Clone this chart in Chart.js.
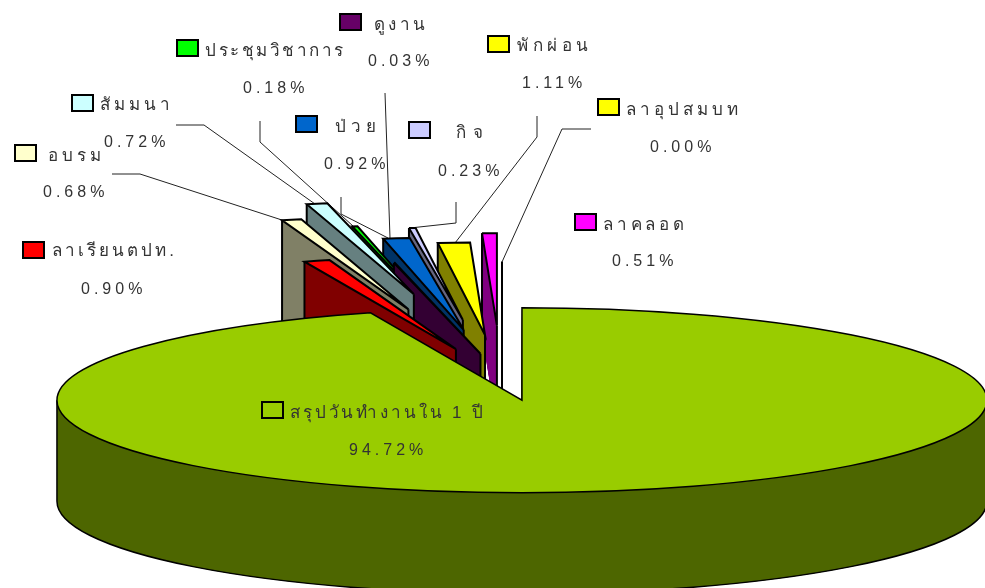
<!DOCTYPE html>
<html>
<head>
<meta charset="utf-8">
<style>
  html, body { margin: 0; padding: 0; background: #fff; }
  #box { width: 985px; height: 588px; }
</style>
<script src="https://cdn.jsdelivr.net/npm/chart.js@4/dist/chart.umd.js"></script>
</head>
<body>
<div id="box"><canvas id="pieChart" width="985" height="588"></canvas></div>
<script>
// Data, in clockwise order from 12 o'clock
const categories = ['สรุปวันทำงานใน 1 ปี', 'ลาเรียนตปท.', 'อบรม', 'สัมมนา', 'ดูงาน', 'ประชุมวิชาการ', 'ป่วย', 'กิจ', 'พักผ่อน', 'ลาคลอด', 'ลาอุปสมบท'];
const percents = [94.72, 0.90, 0.68, 0.72, 0.03, 0.18, 0.92, 0.23, 1.11, 0.51, 0.00];
// how far each slice is pulled out, as a share of the radius
const explode = [0.26, 0.31, 0.75, 0.91, 0.25, 0.65, 0.51, 0.615, 0.45, 0.55, 0.24];

const topColors = ['#99CC00', '#FF0000', '#FFFFCC', '#CCFFFF', '#660066', '#00FF00', '#0066CC', '#CCCCFF', '#FFFF00', '#FF00FF', '#FFFF00'];
const wallColors = ['#4D6600', '#800000', '#808066', '#668080', '#330033', '#008000', '#003366', '#666680', '#808000', '#800080', '#808000'];

// Flattened 3D look
const RX = 465, RY = 92.5, DEPTH = 101;
// small sideways correction of the pulled out slices, px
const shiftX = [0, -3, -6, 0, 0, -10, -4, -8, -3, -1, 0];

// Label layout: key box x/y, name x/y, name width, percent x/y (same order as categories)
const labelBoxes = [
    [262, 402, 290, 413, 193, 349, 451],
    [23, 242, 52, 251, 122, 81, 290],
    [15, 145, 48, 156, 53, 43, 193],
    [72, 95, 100, 105, 70, 104, 143],
    [340, 14, 374, 25, 51, 368, 62],
    [177, 40, 205, 51, 138, 243, 89],
    [296, 116, 335, 127, 41, 324, 165],
    [409, 122, 456, 133, 27, 438, 172],
    [488, 36, 517, 46, 71, 522, 84],
    [575, 214, 603, 225, 81, 612, 262],
    [598, 99, 626, 110, 112, 650, 148]
];
const leaderLines = [
    [[112, 174], [140, 174], [285, 221]],
    [[176, 125], [204, 125], [315, 204]],
    [[260, 121], [260, 142], [353, 226]],
    [[341, 197], [341, 214], [388, 238]],
    [[385, 93], [390, 238]],
    [[456, 202], [456, 223], [410, 228]],
    [[537, 116], [537, 137], [455, 243]],
    [[591, 129], [562, 129], [502, 262]]
];

function slicePoints(arc, i) {
    const mid = (arc.startAngle + arc.endAngle) / 2;
    const ax = arc.x + explode[i] * RX * Math.cos(mid) + shiftX[i];
    const ay = arc.y + explode[i] * RY * Math.sin(mid);
    return {
        ax, ay,
        sx: ax + RX * Math.cos(arc.startAngle), sy: ay + RY * Math.sin(arc.startAngle)
    };
}

// draws the library's arc element squashed into an ellipse
function drawSquashed(ctx, arc, p, dy, color) {
    const saved = arc.options;
    arc.options = Object.assign({}, saved, { backgroundColor: color });
    ctx.save();
    ctx.translate(p.ax, p.ay + dy);
    ctx.scale(RX / arc.outerRadius, RY / arc.outerRadius);
    ctx.translate(-arc.x, -arc.y);
    arc.draw(ctx);
    ctx.restore();
    arc.options = saved;
}

function drawSlice(ctx, arc, i) {
    const p = slicePoints(arc, i);
    const big = arc.circumference > Math.PI;

    // side wall
    for (let d = DEPTH; d > 0; d--) drawSquashed(ctx, arc, p, d, wallColors[i]);
    ctx.fillStyle = wallColors[i];
    ctx.beginPath();
    if (big) {
        // solid band so the stacked arcs leave no stripes
        ctx.ellipse(p.ax, p.ay, RX, RY, 0, 0, Math.PI);
        ctx.ellipse(p.ax, p.ay + DEPTH, RX, RY, 0, Math.PI, 0, true);
    } else {
        ctx.moveTo(p.sx, p.sy);
        ctx.lineTo(p.ax, p.ay);
        ctx.lineTo(p.ax, p.ay + DEPTH);
        ctx.lineTo(p.sx, p.sy + DEPTH);
    }
    ctx.closePath();
    ctx.fill();

    ctx.strokeStyle = '#000';
    ctx.lineWidth = big ? 1.5 : 2;
    ctx.beginPath();
    if (big) {
        // lower rim and the two silhouette edges
        ctx.ellipse(p.ax, p.ay + DEPTH, RX, RY, 0, 0, Math.PI);
        ctx.moveTo(p.ax - RX, p.ay);
        ctx.lineTo(p.ax - RX, p.ay + DEPTH);
        ctx.moveTo(p.ax + RX, p.ay);
        ctx.lineTo(p.ax + RX, p.ay + DEPTH);
    } else {
        ctx.moveTo(p.sx, p.sy);
        ctx.lineTo(p.sx, p.sy + DEPTH);
        ctx.moveTo(p.ax, p.ay);
        ctx.lineTo(p.ax, p.ay + DEPTH);
    }
    ctx.stroke();

    // top face
    drawSquashed(ctx, arc, p, 0, topColors[i]);
    ctx.beginPath();
    ctx.moveTo(p.ax, p.ay);
    ctx.lineTo(p.sx, p.sy);
    ctx.ellipse(p.ax, p.ay, RX, RY, 0, arc.startAngle, arc.endAngle);
    ctx.closePath();
    ctx.stroke();
}

// stretches the letters so a name fills the width it has in the picture
function fitSpacing(ctx, text, width) {
    ctx.letterSpacing = '0px';
    const w0 = ctx.measureText(text).width;
    ctx.letterSpacing = '1px';
    const n = ctx.measureText(text).width - w0;
    return ((width - w0) / (n - 1)) + 'px';
}

const pie3d = {
    id: 'pie3d',
    beforeDatasetsDraw(chart) {
        const ctx = chart.ctx;
        const arcs = chart.getDatasetMeta(0).data;

        ctx.strokeStyle = '#222';
        ctx.lineWidth = 1;
        leaderLines.forEach(line => {
            ctx.beginPath();
            line.forEach((pt, j) => j ? ctx.lineTo(pt[0], pt[1]) : ctx.moveTo(pt[0], pt[1]));
            ctx.stroke();
        });

        // back to front: last slice first, the big one on top of everything
        for (let i = arcs.length - 1; i >= 0; i--) drawSlice(ctx, arcs[i], i);
        return false;
    },
    afterDraw(chart) {
        const ctx = chart.ctx;
        ctx.save();
        ctx.textBaseline = 'middle';
        ctx.textAlign = 'left';
        categories.forEach((name, i) => {
            const b = labelBoxes[i];
            ctx.fillStyle = topColors[i];
            ctx.strokeStyle = '#000';
            ctx.lineWidth = 2;
            ctx.fillRect(b[0], b[1], 21, 16);
            ctx.strokeRect(b[0], b[1], 21, 16);
            ctx.fillStyle = '#333';
            ctx.font = '17px "Liberation Sans", "Noto Sans", sans-serif';
            ctx.letterSpacing = fitSpacing(ctx, name, b[4]);
            ctx.fillText(name, b[2], b[3]);
            ctx.font = '16px "Liberation Sans", "Noto Sans", sans-serif';
            ctx.letterSpacing = '4px';
            ctx.fillText(percents[i].toFixed(2) + '%', b[5], b[6]);
        });
        ctx.restore();
    }
};

new Chart(document.getElementById('pieChart').getContext('2d'), {
    type: 'pie',
    data: {
        labels: categories,
        datasets: [{
            data: percents,
            backgroundColor: topColors,
            borderWidth: 0
        }]
    },
    options: {
        responsive: false,
        animation: false,
        events: [],
        layout: { padding: { left: 19, top: 165 } },
        plugins: { legend: { display: false }, tooltip: { enabled: false } }
    },
    plugins: [pie3d]
});
</script>
</body>
</html>
